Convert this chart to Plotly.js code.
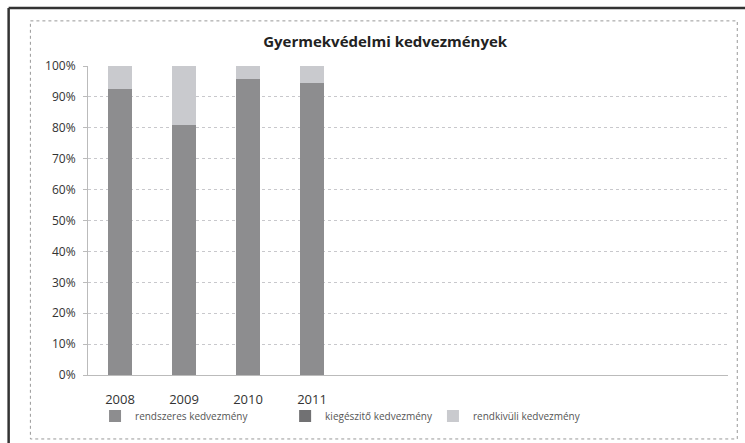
<!DOCTYPE html>
<html>
<head>
<meta charset="utf-8">
<script src="https://cdn.plot.ly/plotly-3.0.1.min.js"></script>
<style>html,body{margin:0;padding:0;background:#fff}#chart{width:745px;height:443px}</style>
</head>
<body>
<div id="chart"></div>
<script>
var years = ['2008', '2009', '2010', '2011'];
var rendszeres = [92.6, 80.9, 95.7, 94.4];
var kiegeszito = [0, 0, 0, 0];
var rendkivuli = [7.4, 19.1, 4.3, 5.6];
var seriesNames = ['rendszeres kedvezmény', 'kiegészitő kedvezmény', 'rendkivüli kedvezmény'];
var yTicks = [0, 10, 20, 30, 40, 50, 60, 70, 80, 90, 100];

var colors = ['#8d8d8f', '#717173', '#c9cace'];
var legendIds = ['legend', 'legend2', 'legend3'];
var traces = [rendszeres, kiegeszito, rendkivuli].map(function (vals, i) {
  return {
    type: 'bar', x: years, y: vals, name: seriesNames[i],
    marker: {color: colors[i]}, width: 0.38, hoverinfo: 'skip',
    legend: legendIds[i]
  };
});

function leg(x) {
  return {
    orientation: 'h', x: x, xanchor: 'left', y: -0.133, yanchor: 'middle',
    font: {size: 10, color: '#555'}, itemwidth: 30, bgcolor: 'rgba(0,0,0,0)'
  };
}

var layout = {
  width: 745, height: 443,
  margin: {l: 88, r: 17, t: 66, b: 68},
  paper_bgcolor: '#ffffff', plot_bgcolor: '#ffffff',
  barmode: 'stack',
  font: {family: 'Open Sans, Lato, sans-serif', color: '#333'},
  title: {text: 'Gyermekvédelmi kedvezmények', font: {size: 15, color: '#222', family: 'Open Sans, sans-serif', weight: 'bold'}, x: 0.517, xanchor: 'center', y: 0.905, yanchor: 'middle'},
  xaxis: {
    type: 'category', categoryorder: 'array', categoryarray: years,
    range: [-0.5, 9.5], showgrid: false, zeroline: false,
    showline: true, linecolor: '#bbbbbb', linewidth: 1,
    ticks: '', tickfont: {size: 13, color: '#333'}, ticklabelstandoff: 12
  },
  yaxis: {
    range: [0, 100], tickvals: yTicks, ticktext: yTicks.map(function (v) { return v + '%'; }),
    showgrid: true, gridcolor: '#c8c8cc', griddash: 'dot', gridwidth: 1,
    zeroline: false, showline: true, linecolor: '#bbbbbb', linewidth: 1,
    ticks: 'outside', ticklen: 4, tickcolor: '#bbbbbb',
    tickfont: {size: 12, color: '#333'}, ticklabelstandoff: 5
  },
  showlegend: true,
  legend: leg(0.011),
  legend2: leg(0.308),
  legend3: leg(0.539),
  shapes: [
    {type: 'line', xref: 'paper', yref: 'paper', x0: -0.124, x1: 1.03, y0: 1.188, y1: 1.188, line: {color: '#333', width: 2.5}},
    {type: 'line', xref: 'paper', yref: 'paper', x0: -0.124, x1: -0.124, y0: 1.188, y1: -0.22, line: {color: '#333', width: 2.5}},
    {type: 'rect', xref: 'paper', yref: 'paper', x0: -0.09, x1: 1.0145, y0: 1.146, y1: -0.207, line: {color: '#999', width: 1, dash: 'dot'}}
  ]
};

Plotly.newPlot('chart', traces, layout, {displayModeBar: false, staticPlot: true});
</script>
</body>
</html>
